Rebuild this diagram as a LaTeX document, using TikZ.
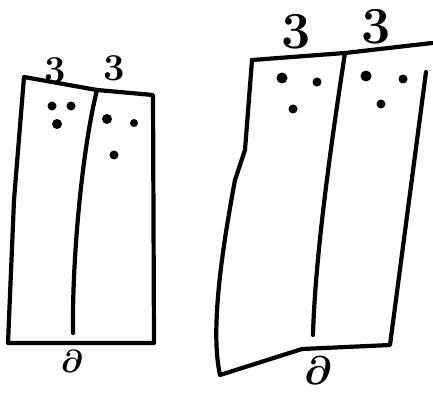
\documentclass[tikz,border=0pt]{standalone}
\usepackage{bm}
\usetikzlibrary{calc}

\begin{document}
\begin{tikzpicture}[
  x=1pt, y=-1pt,
  ink/.style={line width=4.2pt, line join=round, line cap=round},
  num/.style={font=\bfseries, inner sep=0pt},
  small/.style={num, font=\bfseries\fontsize{38}{38}\selectfont},
  big/.style={num, font=\bfseries\fontsize{52}{52}\selectfont}
]
\useasboundingbox (0,0) rectangle (433,395);

% left panel pair
\draw[ink] (24,77) -- (97,90) -- (153,95) -- (154,343) -- (8,343) -- (14,200) -- cycle;
\draw[ink] (97,90) .. controls (82,150) and (72,260) .. (73,333);
\fill (52,106) circle (4.5);
\fill (71,106) circle (4.5);
\fill (57,124) circle (5);
\fill (107,119) circle (5);
\fill (134,123) circle (4);
\fill (114,155) circle (4.5);
\node[small] (la) at (55,70) {3};
\node[small] (lb) at (114,68) {3};
\node[num] (lc) at (72,361) {\scalebox{3.2}{$\bm\partial$}};

% right panel pair
\draw[ink] (252,60) -- (345,53) -- (432,43);
\draw[ink] (252,60) -- (245,150) -- (235,180) .. controls (222,250) and (210,330) .. (220,375)
  -- (302,349) -- (390,345) -- (426,72);
\draw[ink] (345,53) .. controls (330,150) and (315,260) .. (313,335);
\fill (282,78) circle (5.5);
\fill (317,82) circle (4.5);
\fill (293,109) circle (4.5);
\fill (366,76) circle (5.5);
\fill (403,79) circle (4.5);
\fill (381,104) circle (4.5);
\node[big] (ra) at (296,32) {3};
\node[big] (rb) at (376,27) {3};
\node[num] (rc) at (318,371) {\scalebox{4}{$\bm\partial$}};
\end{tikzpicture}
\end{document}
